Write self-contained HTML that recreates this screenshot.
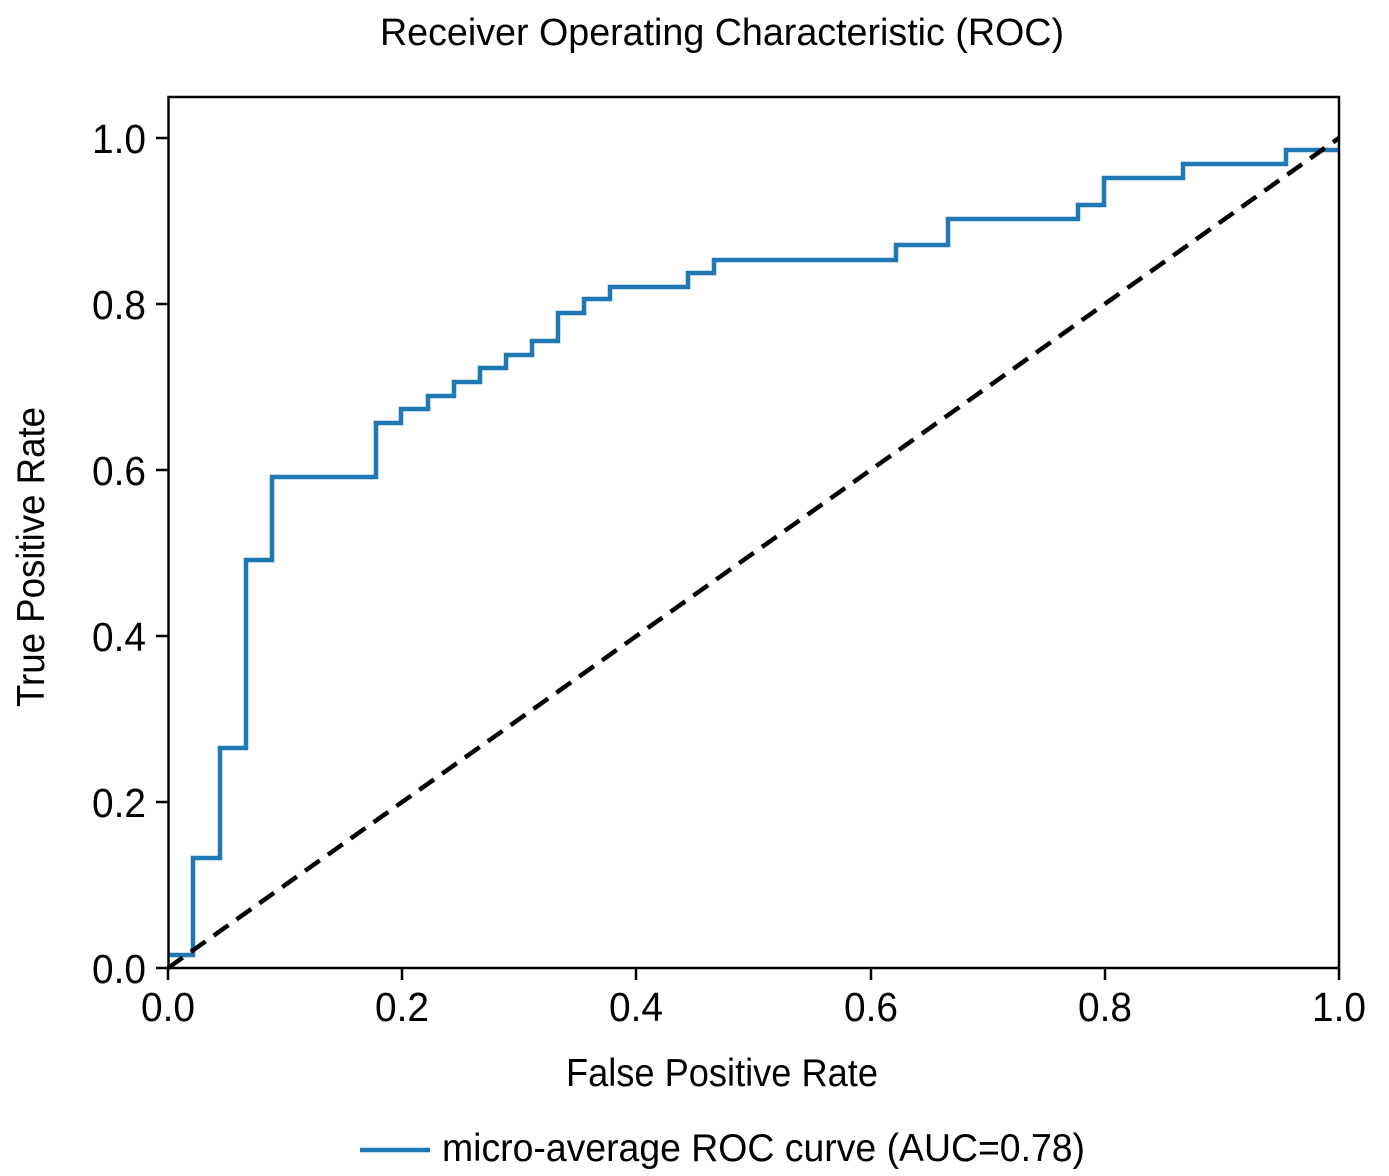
<!DOCTYPE html>
<html><head><meta charset="utf-8"><style>
html,body{margin:0;padding:0;background:#fff}
svg{display:block}
text{font-family:"Liberation Sans",sans-serif;fill:#000}
</style></head><body>
<svg width="1389" height="1176" viewBox="0 0 1389 1176" xmlns="http://www.w3.org/2000/svg">
<rect width="1389" height="1176" fill="#fff"/>
<text x="722" y="45" font-size="38" text-anchor="middle" textLength="684" lengthAdjust="spacingAndGlyphs">Receiver Operating Characteristic (ROC)</text>
<polyline fill="none" stroke="#1f77b4" stroke-width="4.5" stroke-linejoin="miter" points="168,955 193,955 193,858 220,858 220,748 246,748 246,560 272,560 272,477 376,477 376,423 401,423 401,409 428,409 428,396 454,396 454,382 480,382 480,368 506,368 506,355 532,355 532,341 558,341 558,313 584,313 584,299 610,299 610,287 688,287 688,273 714,273 714,260 896,260 896,245 948,245 948,219 1078,219 1078,205 1104,205 1104,178 1183,178 1183,164 1286,164 1286,150 1339,150"/>
<line x1="168" y1="968" x2="1339" y2="138" stroke="#000" stroke-width="4.5" stroke-dasharray="18,10"/>
<rect x="168.5" y="97" width="1170.5" height="871" fill="none" stroke="#000" stroke-width="2.5"/>
<g stroke="#000" stroke-width="2.5">
<line x1="168" y1="968" x2="168" y2="980"/><line x1="402" y1="968" x2="402" y2="980"/><line x1="636" y1="968" x2="636" y2="980"/><line x1="871" y1="968" x2="871" y2="980"/><line x1="1105" y1="968" x2="1105" y2="980"/><line x1="1339" y1="968" x2="1339" y2="980"/>
<line x1="156" y1="968" x2="168" y2="968"/><line x1="156" y1="802" x2="168" y2="802"/><line x1="156" y1="636" x2="168" y2="636"/><line x1="156" y1="470" x2="168" y2="470"/><line x1="156" y1="304" x2="168" y2="304"/><line x1="156" y1="138" x2="168" y2="138"/>
</g>
<g font-size="41" text-anchor="middle">
<text x="168" y="1021" textLength="54" lengthAdjust="spacingAndGlyphs">0.0</text><text x="402" y="1021" textLength="54" lengthAdjust="spacingAndGlyphs">0.2</text><text x="636" y="1021" textLength="54" lengthAdjust="spacingAndGlyphs">0.4</text><text x="871" y="1021" textLength="54" lengthAdjust="spacingAndGlyphs">0.6</text><text x="1105" y="1021" textLength="54" lengthAdjust="spacingAndGlyphs">0.8</text><text x="1339" y="1021" textLength="54" lengthAdjust="spacingAndGlyphs">1.0</text>
</g>
<g font-size="41" text-anchor="end">
<text x="146" y="983" textLength="54" lengthAdjust="spacingAndGlyphs">0.0</text><text x="146" y="817" textLength="54" lengthAdjust="spacingAndGlyphs">0.2</text><text x="146" y="651" textLength="54" lengthAdjust="spacingAndGlyphs">0.4</text><text x="146" y="485" textLength="54" lengthAdjust="spacingAndGlyphs">0.6</text><text x="146" y="319" textLength="54" lengthAdjust="spacingAndGlyphs">0.8</text><text x="146" y="153" textLength="54" lengthAdjust="spacingAndGlyphs">1.0</text>
</g>
<text x="722" y="1086" font-size="39" text-anchor="middle" textLength="312" lengthAdjust="spacingAndGlyphs">False Positive Rate</text>
<text transform="translate(44,557) rotate(-90)" font-size="39" text-anchor="middle" textLength="300" lengthAdjust="spacingAndGlyphs">True Positive Rate</text>
<line x1="360" y1="1150" x2="430" y2="1150" stroke="#1f77b4" stroke-width="4.5"/>
<text x="442" y="1161" font-size="39" textLength="643" lengthAdjust="spacingAndGlyphs">micro-average ROC curve (AUC=0.78)</text>
</svg>
</body></html>
